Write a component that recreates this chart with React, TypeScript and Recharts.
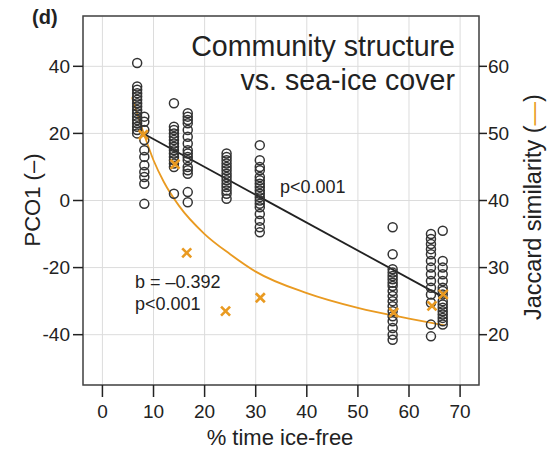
import { ComposedChart, Scatter, Line, XAxis, YAxis, CartesianGrid, ReferenceArea } from 'recharts'

const FONT = '"Liberation Sans", Arial, sans-serif'
const ORANGE = '#E99A21'
const INK = '#222'

// x position (% time ice-free) of each sampling column, and PCO1 scores read per column
const colX = [6.8, 8.2, 14.0, 16.7, 24.3, 30.8, 56.8, 64.3, 66.6]
const colPCO1: number[][] = [
  [41, 34, 33, 32, 31, 30, 29, 28, 27, 26, 25, 24, 23, 22, 21, 20],
  [25, 23.5, 21, 18, 15, 13, 10.5, 8.5, 7, 5, -1],
  [29, 22, 21, 20, 19, 18, 17, 16, 15, 14, 13, 12, 11, 10, 2],
  [26, 25, 24, 23, 21, 19, 17, 15, 14, 13, 12, 10, 9, 8, 2.5, -0.5],
  [14, 13, 12, 11, 10, 9, 8, 7, 6, 5, 4, 3, 2, 0.5],
  [16.5, 12, 10, 9, 7, 6, 5, 4, 3, 2, 1, 0, -1, -2, -4, -6, -8, -9.5],
  [-8, -16, -20.5, -21.5, -22.5, -23.5, -24.5, -25.5, -27, -28.5, -30, -31.5, -33, -34.5, -36, -38, -40, -41.5],
  [-10, -11.5, -13, -14.5, -16, -18, -20, -22, -24, -26, -28, -30.5, -37, -40.5],
  [-9, -18, -20, -22, -24, -26, -27, -28, -30, -31, -32, -33, -34, -35, -36, -37],
]

// Jaccard similarity per site (orange crosses)
const jaccardX = [8.0, 14.2, 16.5, 24.1, 30.9, 57.0, 64.5, 66.7]
const jaccardVal = [49.8, 45.4, 32.2, 23.5, 25.5, 23.3, 24.3, 26.0]

// linear fit of PCO1 (black line)
const fitX = [7, 66.7]
const fitPCO1 = [20.8, -28.8]

// power-law fit of Jaccard similarity (orange curve)
const curveX = [5.8, 8, 10, 12, 15, 20, 25, 30, 40, 50, 60, 67]
const curveJ = [55.4, 50.2, 46.0, 42.8, 39.2, 35.0, 32.0, 29.4, 26.2, 24.0, 22.4, 21.4]

const xTicks = [0, 10, 20, 30, 40, 50, 60, 70]
const leftTicks = [-40, -20, 0, 20, 40]
const rightTicks = [20, 30, 40, 50, 60]

const pcoPoints = colX.flatMap((x, i) => colPCO1[i].map(v => ({ x, v })))
const jaccardPoints = jaccardX.map((x, i) => ({ x, j: jaccardVal[i] }))
const fitPoints = fitX.map((x, i) => ({ x, v: fitPCO1[i] }))
const curvePoints = curveX.map((x, i) => ({ x, j: curveJ[i] }))

const OpenCircle = (p: any) => (
  <circle cx={p.cx} cy={p.cy} r={4.5} fill="none" stroke="#333" strokeWidth={1.5} />
)

const Cross = (p: any) => {
  const s = 4.5
  return (
    <g stroke={ORANGE} strokeWidth={2.6} strokeLinecap="butt">
      <line x1={p.cx - s} y1={p.cy - s} x2={p.cx + s} y2={p.cy + s} />
      <line x1={p.cx - s} y1={p.cy + s} x2={p.cx + s} y2={p.cy - s} />
    </g>
  )
}

const tickStyle = { fontSize: 19, fill: INK, fontFamily: FONT }
const tickLine = { stroke: INK, strokeWidth: 1.5 }

export default function App() {
  return (
    <div style={{ position: 'absolute', left: 0, top: 0, width: 551, height: 455, background: '#fff' }}>
      <ComposedChart
        width={551}
        height={455}
        margin={{ top: 16, right: 0, bottom: 0, left: 0 }}
      >
        <CartesianGrid yAxisId="left" stroke="#dcdcdc" strokeWidth={1} />
        <XAxis
          dataKey="x"
          type="number"
          domain={[-3.8, 73.7]}
          ticks={xTicks}
          height={70}
          axisLine={false}
          tickLine={tickLine}
          tickSize={12}
          tickMargin={8}
          tick={tickStyle}
          allowDataOverflow
        />
        <YAxis
          yAxisId="left"
          type="number"
          domain={[-55, 55]}
          ticks={leftTicks}
          width={83}
          axisLine={false}
          tickLine={tickLine}
          tickSize={10}
          tickMargin={3}
          tick={tickStyle}
          allowDataOverflow
        />
        <YAxis
          yAxisId="right"
          orientation="right"
          type="number"
          domain={[12.5, 67.5]}
          ticks={rightTicks}
          width={72}
          axisLine={false}
          tickLine={tickLine}
          tickSize={8}
          tickMargin={1}
          tick={tickStyle}
          allowDataOverflow
        />
        <ReferenceArea
          yAxisId="left"
          x1={-3.8}
          x2={73.7}
          y1={-55}
          y2={55}
          fill="none"
          stroke="#444"
          strokeWidth={1.5}
          fillOpacity={0}
        />
        <Scatter yAxisId="left" data={pcoPoints} dataKey="v" shape={OpenCircle} isAnimationActive={false} />
        <Line
          yAxisId="left"
          data={fitPoints}
          dataKey="v"
          stroke={INK}
          strokeWidth={1.8}
          dot={false}
          isAnimationActive={false}
        />
        <Line
          yAxisId="right"
          data={curvePoints}
          dataKey="j"
          type="monotone"
          stroke={ORANGE}
          strokeWidth={1.8}
          dot={false}
          isAnimationActive={false}
        />
        <Scatter yAxisId="right" data={jaccardPoints} dataKey="j" shape={Cross} isAnimationActive={false} />
      </ComposedChart>

      <svg
        width={551}
        height={455}
        style={{ position: 'absolute', left: 0, top: 0, pointerEvents: 'none' }}
        fontFamily={FONT}
        fill={INK}
      >
        <text x={32} y={24} fontSize={20} fontWeight="bold">(d)</text>
        <text x={455} y={56} fontSize={28.6} textAnchor="end">Community structure</text>
        <text x={455} y={90} fontSize={28.6} textAnchor="end">vs. sea-ice cover</text>
        <text x={280} y={193} fontSize={18}>p&lt;0.001</text>
        <text x={135} y={288} fontSize={18}>b = –0.392</text>
        <text x={135} y={310} fontSize={18}>p&lt;0.001</text>
        <text x={280} y={445} fontSize={22} textAnchor="middle">% time ice-free</text>
        <text x={40} y={200} fontSize={22} textAnchor="middle" transform="rotate(-90 40 200)">
          PCO1 (–)
        </text>
        <text x={541} y={207} fontSize={23.5} textAnchor="middle" transform="rotate(-90 541 207)">
          Jaccard similarity (<tspan fill={ORANGE}>—</tspan>)
        </text>
      </svg>
    </div>
  )
}
